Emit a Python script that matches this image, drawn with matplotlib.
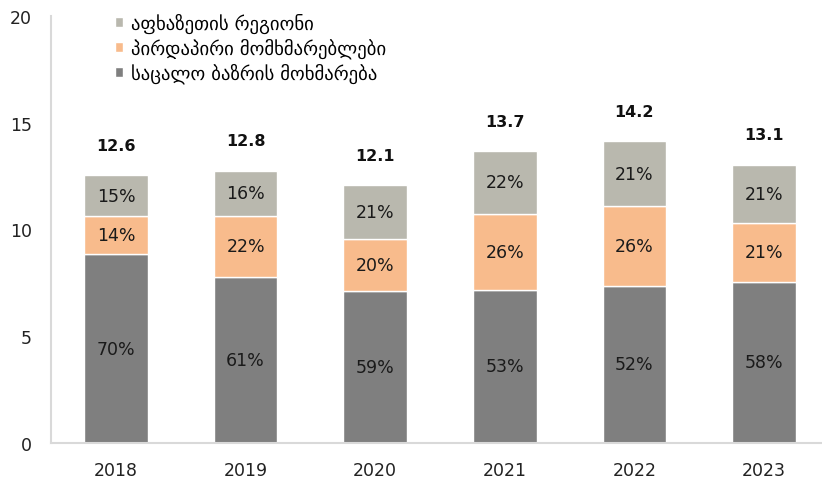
import matplotlib
matplotlib.use("Agg")
import matplotlib.pyplot as plt
import numpy as np

plt.rcParams['font.family'] = ['DejaVu Sans']

years = ["2018", "2019", "2020", "2021", "2022", "2023"]
retail = [8.83, 7.78, 7.13, 7.17, 7.37, 7.55]
direct = [1.80, 2.86, 2.43, 3.56, 3.73, 2.76]
abkhazia = [1.92, 2.11, 2.54, 2.96, 3.04, 2.71]
retail_pct = ["70%", "61%", "59%", "53%", "52%", "58%"]
direct_pct = ["14%", "22%", "20%", "26%", "26%", "21%"]
abkhazia_pct = ["15%", "16%", "21%", "22%", "21%", "21%"]
totals = [12.6, 12.8, 12.1, 13.7, 14.2, 13.1]

series_names = ["საცალო ბაზრის მოხმარება", "პირდაპირი მომხმარებლები", "აფხაზეთის რეგიონი"]
colors = ["#7f7f7f", "#f8bb8c", "#b9b8ae"]

W, H = 822, 481
fig = plt.figure(figsize=(W/100, H/100), dpi=100)
ax = fig.add_axes([51.2/W, 1-444/H, 777.6/W, (444-17)/H])

x = np.arange(len(years))
bw = 0.49
bottom = np.zeros(len(years))
handles = []
for vals, pcts, c, name in zip([retail, direct, abkhazia], [retail_pct, direct_pct, abkhazia_pct], colors, series_names):
    b = ax.bar(x, vals, bw, bottom=bottom, color=c, edgecolor="white", linewidth=1, label=name)
    handles.append(b)
    for xi, v, bt, p in zip(x, vals, bottom, pcts):
        ax.text(xi, bt + v/2, p, ha="center", va="center", fontsize=12.5, color="#1a1a1a")
    bottom = bottom + np.array(vals)

for xi, t in zip(x, totals):
    ax.text(xi, t + 1.35, f"{t:.1f}", ha="center", va="center", fontsize=11.5, fontweight="bold", color="#111111")

ax.set_xlim(-0.5, 5.5)
ax.set_ylim(0, 20)
ax.set_yticks([0, 5, 10, 15, 20])
ax.set_xticks(x)
ax.set_xticklabels(years)
ax.tick_params(axis="both", length=0, labelsize=12.5, colors="#222222")
ax.tick_params(axis="y", pad=14)
ax.tick_params(axis="x", pad=13)
for s in ["top", "right"]:
    ax.spines[s].set_visible(False)
for s in ["left", "bottom"]:
    ax.spines[s].set_color("#d9d9d9")
    ax.spines[s].set_linewidth(1.5)

leg = ax.legend(handles[::-1], [h.get_label() for h in handles[::-1]],
                loc="upper left", bbox_to_anchor=(0.072, 1.026), frameon=False,
                fontsize=13.5, handlelength=0.45, handleheight=0.45, handletextpad=0.4,
                labelspacing=0.25, borderaxespad=0)

fig.savefig("out.png", dpi=100)
